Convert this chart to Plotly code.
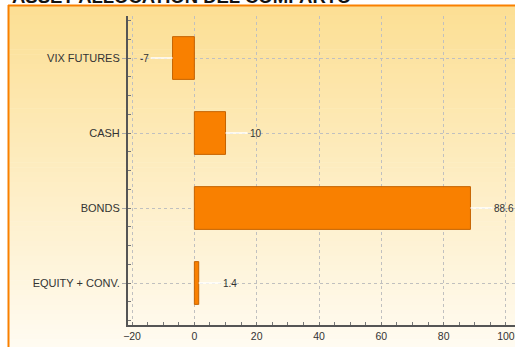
import plotly.graph_objects as go

# Portfolio allocation (% of fund)
categories = ["VIX FUTURES", "CASH", "BONDS", "EQUITY + CONV."]
weights = [-7, 10, 88.6, 1.4]
x_ticks = [-20, 0, 20, 40, 60, 80, 100]

W, H = 515, 347
ML, MR, MT, MB = 128, 0, 16, 22
PW, PH = W - ML - MR, H - MT - MB


def px_x(px):
    return (px - ML) / PW


def px_y(py):
    return (H - MB - py) / PH


ypos = list(range(len(categories)))

fig = go.Figure()
fig.add_trace(go.Bar(
    x=weights, y=ypos, orientation="h", width=0.57,
    marker=dict(color="#F98000", line=dict(color="#C56300", width=1)),
    hoverinfo="skip",
))

# Vertical gradient panel behind the chart
top_c = (252, 223, 148)
bot_c = (255, 251, 241)
n = 70
y0, y1 = 5, H + 2
shapes = []
for i in range(n):
    a = y0 + (y1 - y0) * i / n
    b = y0 + (y1 - y0) * (i + 1) / n + 0.6
    t = i / (n - 1)
    c = tuple(round(top_c[k] + (bot_c[k] - top_c[k]) * t) for k in range(3))
    shapes.append(dict(type="rect", xref="paper", yref="paper", layer="below",
                       x0=px_x(9), x1=px_x(W + 5), y0=px_y(b), y1=px_y(a),
                       fillcolor="rgb(%d,%d,%d)" % c, line=dict(width=0)))
# Orange panel border (top and left edges)
shapes.append(dict(type="line", xref="paper", yref="paper", layer="below",
                   x0=px_x(8), x1=px_x(W + 5), y0=px_y(5.5), y1=px_y(5.5),
                   line=dict(color="#F98000", width=2)))
shapes.append(dict(type="line", xref="paper", yref="paper", layer="below",
                   x0=px_x(8.5), x1=px_x(8.5), y0=px_y(5), y1=px_y(H + 5),
                   line=dict(color="#F98000", width=2)))

# Value labels with white leader lines
annotations = []
for yi, v in zip(ypos, weights):
    neg = v < 0
    annotations.append(dict(
        x=v, y=yi, xref="x", yref="y", text=str(v),
        showarrow=True, arrowhead=0, arrowwidth=1.5, arrowcolor="white",
        ax=-22 if neg else 22, ay=0, xanchor="right" if neg else "left",
        font=dict(size=10, color="#333333", family="Liberation Sans, Arial"),
    ))

fig.update_layout(
    width=W, height=H,
    margin=dict(l=ML, r=MR, t=MT, b=MB),
    paper_bgcolor="white", plot_bgcolor="rgba(0,0,0,0)",
    showlegend=False, bargap=0.43,
    shapes=shapes, annotations=annotations,
    font=dict(family="Liberation Sans, Arial", size=10, color="#333333"),
    title=dict(text="<b>ASSET ALLOCATION DEL COMPARTO</b>",
               x=12 / W, xanchor="left", xref="container",
               y=1 - 3 / H, yanchor="bottom", yref="container",
               font=dict(size=18.5, color="#111111",
                         family="Liberation Sans, Arial")),
    xaxis=dict(
        range=[-21.3, 102.9], tickvals=x_ticks, zeroline=False,
        showgrid=True, gridcolor="#c0c0c0", griddash="dot", gridwidth=1,
        showline=True, linecolor="#555555", linewidth=2,
        ticks="", tickfont=dict(size=10.5, color="#333333"),
        minor=dict(dtick=5, tick0=0, ticks="inside", ticklen=3,
                   tickcolor="#777777", showgrid=False),
        fixedrange=True,
    ),
    yaxis=dict(
        range=[3.56, -0.56], tickvals=ypos, ticktext=categories,
        zeroline=False, showgrid=True, gridcolor="#c0c0c0", griddash="dot",
        showline=True, linecolor="#555555", linewidth=2,
        ticks="outside", ticklen=4, tickcolor="#aaaaaa",
        tickfont=dict(size=11, color="#333333"),
        minor=dict(dtick=0.25, tick0=0, ticks="inside", ticklen=3,
                   tickcolor="#777777", showgrid=False),
        fixedrange=True,
    ),
)

fig.write_html("out.html")
